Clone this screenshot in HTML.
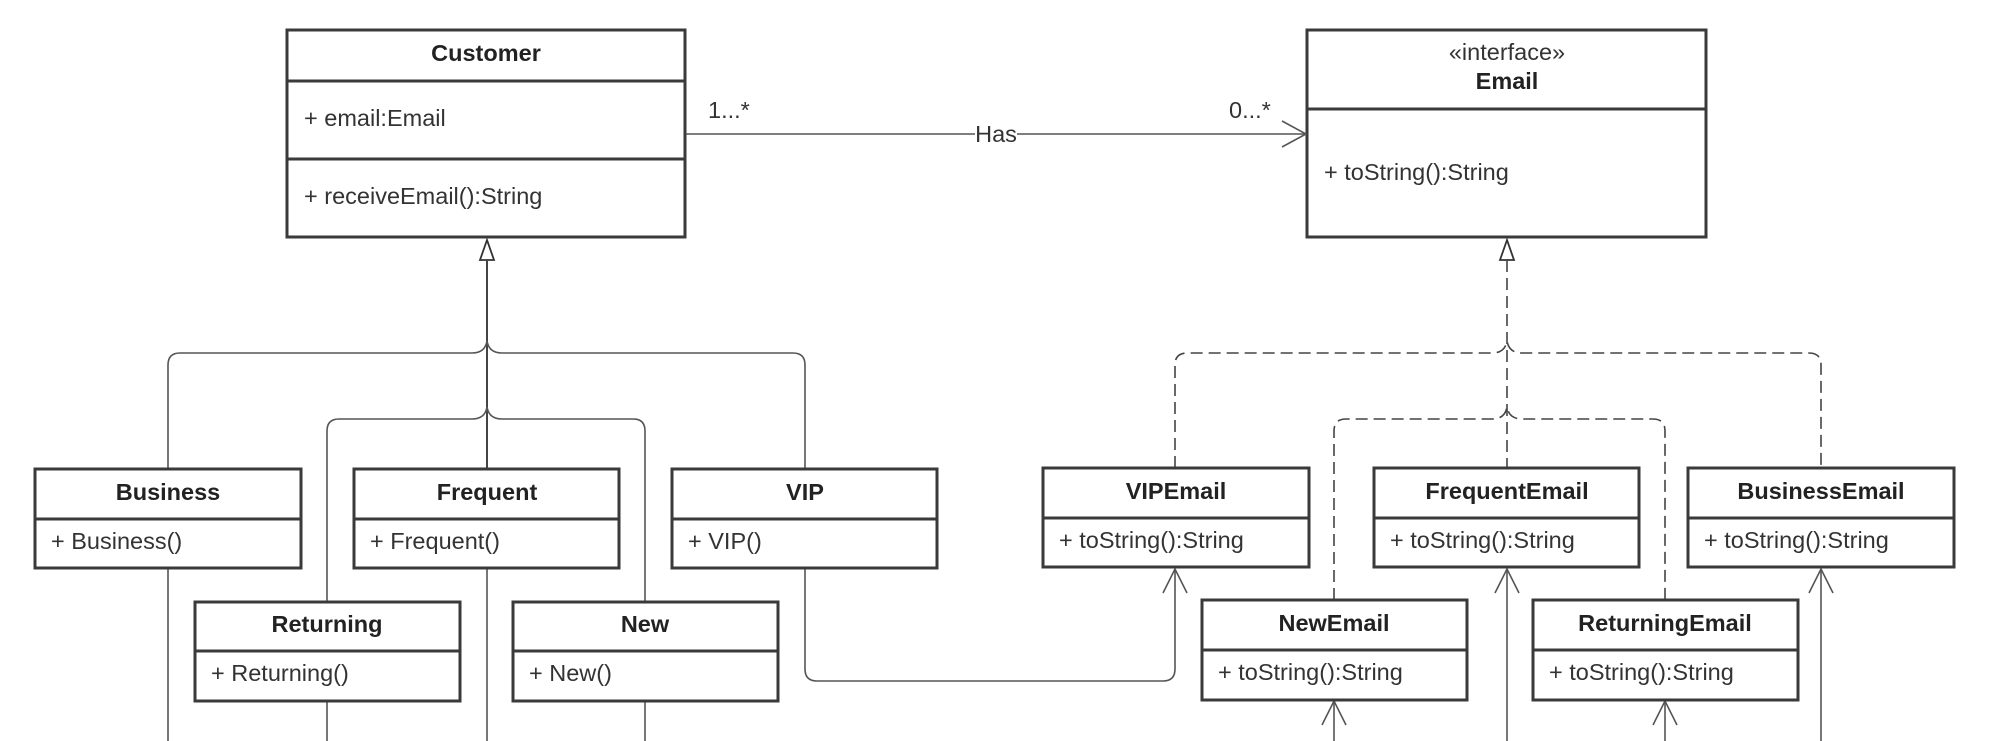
<!DOCTYPE html>
<html><head><meta charset="utf-8"><style>
html,body{margin:0;padding:0;background:#fff;}
svg{display:block;}
text{font-family:"Liberation Sans",sans-serif;fill:#333;font-size:23.5px;}
.b{font-weight:bold;text-anchor:middle;fill:#222;}
.box{fill:#fff;stroke:#3a3a3a;stroke-width:3;}
.div{stroke:#3a3a3a;stroke-width:3;}
.ln{fill:none;stroke:#555;stroke-width:1.6;}
.dl{fill:none;stroke:#444;stroke-width:1.6;stroke-dasharray:12 6;}
</style></head><body>
<svg width="2000" height="741" viewBox="0 0 2000 741" xmlns="http://www.w3.org/2000/svg">
<!-- Customer -->
<rect class="box" x="287" y="30" width="398" height="207"/>
<line class="div" x1="287" y1="81" x2="685" y2="81"/>
<line class="div" x1="287" y1="159" x2="685" y2="159"/>
<text class="b" x="486" y="61">Customer</text>
<text x="304" y="126">+ email:Email</text>
<text x="304" y="204">+ receiveEmail():String</text>
<!-- Email -->
<rect class="box" x="1307" y="30" width="399" height="207"/>
<line class="div" x1="1307" y1="109" x2="1706" y2="109"/>
<text x="1507" y="60" text-anchor="middle">«interface»</text>
<text class="b" x="1507" y="89">Email</text>
<text x="1324" y="180">+ toString():String</text>
<!-- association -->
<line class="ln" x1="686" y1="134" x2="1305" y2="134"/>
<polyline class="ln" points="1282,121 1306,134 1282,147"/>
<rect x="975" y="120" width="42" height="26" fill="#fff"/>
<text x="996" y="142" text-anchor="middle">Has</text>
<text x="708" y="118">1...*</text>
<text x="1229" y="118">0...*</text>
<!-- generalization tree -->
<polygon points="487,240 480,260 494,260" fill="#fff" stroke="#333" stroke-width="1.8"/>
<line x1="487" y1="260" x2="487" y2="468" stroke="#444" stroke-width="2"/>
<path class="ln" d="M168,468 V365 Q168,353 180,353 H472 Q485,353 487,341 Q489,353 502,353 H793 Q805,353 805,365 V469"/>
<path class="ln" d="M327,602 V431 Q327,419 339,419 H472 Q485,419 487,407 Q489,419 502,419 H633 Q645,419 645,431 V602"/>
<line class="ln" x1="168" y1="568" x2="168" y2="741"/>
<line class="ln" x1="327" y1="701" x2="327" y2="741"/>
<line class="ln" x1="487" y1="569" x2="487" y2="741"/>
<line class="ln" x1="645" y1="701" x2="645" y2="741"/>
<!-- VIP to VIPEmail -->
<path class="ln" d="M805,569 V669 Q805,681 817,681 H1163 Q1175,681 1175,669 V569"/>
<polyline class="ln" points="1163,593 1175,569 1187,593"/>
<!-- realization -->
<polygon points="1507,240 1500,260 1514,260" fill="#fff" stroke="#333" stroke-width="1.8"/>
<line class="dl" x1="1507" y1="260" x2="1507" y2="468"/>
<path class="dl" d="M1175,468 V365 Q1175,353 1187,353 H1492 Q1505,353 1507,341 Q1509,353 1522,353 H1809 Q1821,353 1821,365 V468"/>
<path class="dl" d="M1334,600 V431 Q1334,419 1346,419 H1492 Q1505,419 1507,407 Q1509,419 1522,419 H1653 Q1665,419 1665,431 V600"/>
<!-- lower arrows -->
<line class="ln" x1="1507" y1="569" x2="1507" y2="741"/><polyline class="ln" points="1495,593 1507,569 1519,593"/>
<line class="ln" x1="1821" y1="569" x2="1821" y2="741"/><polyline class="ln" points="1809,593 1821,569 1833,593"/>
<line class="ln" x1="1334" y1="701" x2="1334" y2="741"/><polyline class="ln" points="1322,725 1334,701 1346,725"/>
<line class="ln" x1="1665" y1="701" x2="1665" y2="741"/><polyline class="ln" points="1653,725 1665,701 1677,725"/>
<!-- left boxes -->
<g>
<rect class="box" x="35" y="469" width="266" height="99"/><line class="div" x1="35" y1="519" x2="301" y2="519"/>
<text class="b" x="168" y="500">Business</text><text x="51" y="549">+ Business()</text>
<rect class="box" x="354" y="469" width="265" height="99"/><line class="div" x1="354" y1="519" x2="619" y2="519"/>
<text class="b" x="487" y="500">Frequent</text><text x="370" y="549">+ Frequent()</text>
<rect class="box" x="672" y="469" width="265" height="99"/><line class="div" x1="672" y1="519" x2="937" y2="519"/>
<text class="b" x="805" y="500">VIP</text><text x="688" y="549">+ VIP()</text>
<rect class="box" x="195" y="602" width="265" height="99"/><line class="div" x1="195" y1="651" x2="460" y2="651"/>
<text class="b" x="327" y="632">Returning</text><text x="211" y="681">+ Returning()</text>
<rect class="box" x="513" y="602" width="265" height="99"/><line class="div" x1="513" y1="651" x2="778" y2="651"/>
<text class="b" x="645" y="632">New</text><text x="529" y="681">+ New()</text>
</g>
<!-- right boxes -->
<g>
<rect class="box" x="1043" y="468" width="266" height="99"/><line class="div" x1="1043" y1="518" x2="1309" y2="518"/>
<text class="b" x="1176" y="499">VIPEmail</text><text x="1059" y="548">+ toString():String</text>
<rect class="box" x="1374" y="468" width="265" height="99"/><line class="div" x1="1374" y1="518" x2="1639" y2="518"/>
<text class="b" x="1507" y="499">FrequentEmail</text><text x="1390" y="548">+ toString():String</text>
<rect class="box" x="1688" y="468" width="266" height="99"/><line class="div" x1="1688" y1="518" x2="1954" y2="518"/>
<text class="b" x="1821" y="499">BusinessEmail</text><text x="1704" y="548">+ toString():String</text>
<rect class="box" x="1202" y="600" width="265" height="100"/><line class="div" x1="1202" y1="650" x2="1467" y2="650"/>
<text class="b" x="1334" y="631">NewEmail</text><text x="1218" y="680">+ toString():String</text>
<rect class="box" x="1533" y="600" width="265" height="100"/><line class="div" x1="1533" y1="650" x2="1798" y2="650"/>
<text class="b" x="1665" y="631">ReturningEmail</text><text x="1549" y="680">+ toString():String</text>
</g>
</svg>
</body></html>
